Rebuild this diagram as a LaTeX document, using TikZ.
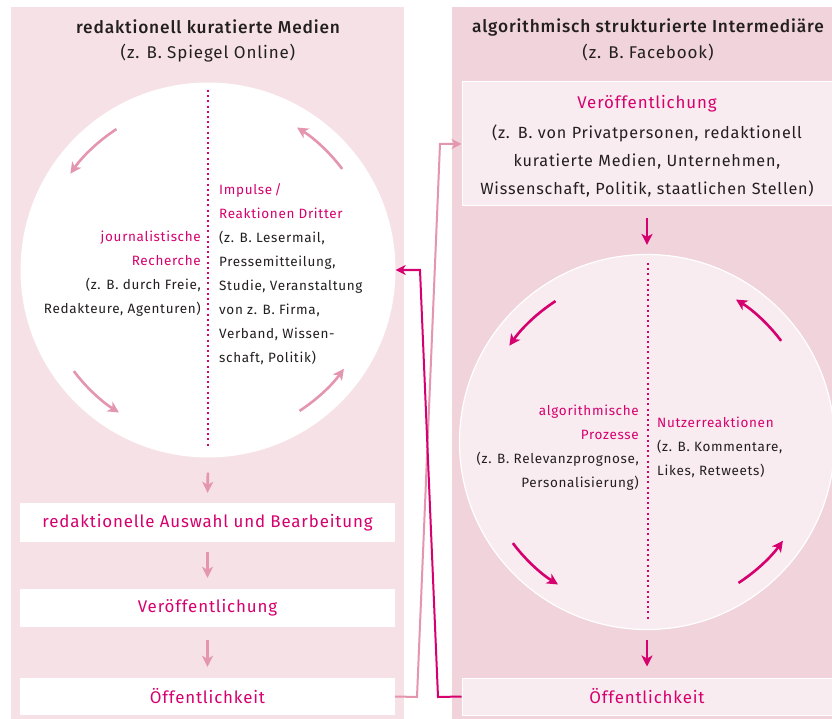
\documentclass[tikz,border=0pt]{standalone}
\usepackage{fontspec}
\setmainfont{Fira Sans}[LetterSpace=5]
\newfontfamily\fmed{Fira Sans Medium}[LetterSpace=5]
\usetikzlibrary{arrows.meta}
\definecolor{bgL}{RGB}{245,225,230}
\definecolor{bgR}{RGB}{240,211,219}
\definecolor{fillR}{RGB}{249,236,240}
\definecolor{mag}{RGB}{214,0,110}
\definecolor{pale}{RGB}{229,150,175}
\definecolor{txt}{RGB}{35,31,32}
\newcommand\fsA{\fontsize{17.3}{21}\selectfont}
\newcommand\fsS{\fontsize{17}{21}\selectfont}
\newcommand\fsT{\fontsize{16.9}{21}\selectfont}
\newcommand\fsB{\fontsize{16.2}{28}\selectfont}
\newcommand\fsC{\fontsize{13.5}{24}\selectfont}
\newcommand\hl[1]{{\color{mag}#1}}
\begin{document}
\begin{tikzpicture}[x=1pt,y=-1pt,
  panel/.style={rectangle, inner sep=0, minimum width=#1},
  lbox/.style={rectangle, fill=white, inner sep=0, minimum width=375, text=mag, font=\fsT},
  rbox/.style={rectangle, fill=fillR, draw=white, line width=1, inner sep=0, minimum width=370, text=mag, font=\fsT},
  htext/.style={text=txt, inner sep=0},
  ctext/.style={text=txt, font=\fsC, inner sep=0},
  dotline/.style={mag, line width=2.2, dash pattern=on 2pt off 3.2pt},
  parr/.style={pale, line width=2.6, -{Stealth[length=11pt,width=11pt,inset=3pt]}},
  marr/.style={mag, line width=2.6, -{Stealth[length=11pt,width=11pt,inset=3pt]}},
  pline/.style={pale, line width=2, -{Stealth[length=10pt,width=10pt,inset=3pt]}},
  mline/.style={mag, line width=2, -{Stealth[length=10pt,width=10pt,inset=3pt]}}
]
\useasboundingbox (0,0) rectangle (832,719);
\fill[white] (0,0) rectangle (832,719);
% panels
\node[panel=393, minimum height=712, fill=bgL] (pl) at (207.5,363) {};
\node[panel=380, minimum height=712, fill=bgR] (pr) at (642,363) {};
% headers
\node[htext, font=\fsA\fmed] (hl1) at (208,27) {redaktionell kuratierte Medien};
\node[htext, font=\fsS] (hl2) at (208,53) {(z. B. Spiegel Online)};
\node[htext, font=\fsA\fmed] (hr1) at (648,27) {algorithmisch strukturierte Intermediäre};
\node[htext, font=\fsS] (hr2) at (648,53) {(z. B. Facebook)};
% left circle
\node[circle, fill=white, inner sep=0, minimum size=375] (lc) at (208,270) {};
\draw[dotline] (208,90) -- (208,446);
\node[ctext, align=right, anchor=east] (lt) at (201,274)
  {\hl{journalistische}\\\hl{Recherche}\\(z. B. durch Freie,\\Redakteure, Agenturen)};
\node[ctext, align=left, anchor=west] (rt) at (219,274)
  {\hl{Impulse\,/}\\\hl{Reaktionen Dritter}\\(z. B. Lesermail,\\Pressemitteilung,\\Studie, Veranstaltung\\von z. B. Firma,\\Verband, Wissen-\\schaft, Politik)};
\draw[parr] ([shift={(237:168)}]lc.center) arc[start angle=237, end angle=215, radius=168];
\draw[parr] ([shift={(143:168)}]lc.center) arc[start angle=143, end angle=122, radius=168];
\draw[parr] ([shift={(57:168)}]lc.center) arc[start angle=57, end angle=36, radius=168];
\draw[parr] ([shift={(323:168)}]lc.center) arc[start angle=323, end angle=302, radius=168];
% left boxes
\node[lbox, minimum height=39] (lb1) at (207.5,522.5) {redaktionelle Auswahl und Bearbeitung};
\node[lbox, minimum height=38] (lb2) at (207.5,608) {Veröffentlichung};
\node[lbox, minimum height=37] (lb3) at (207.5,696.5) {Öffentlichkeit};
\draw[parr, shorten <=15, shorten >=10] (lc.south) -- (lb1.north);
\draw[parr, shorten <=10, shorten >=11] (lb1.south) -- (lb2.north);
\draw[parr, shorten <=13, shorten >=11] (lb2.south) -- (lb3.north);
% right top box
\node[rbox, minimum height=124] (rb1) at (647,144) {};
\node[inner sep=0, font=\fsB, text=txt, text width=366, align=center] (rb1t) at ([yshift=-2pt]rb1.center)
  {{\fsT\hl{Veröffentlichung}}\\[2pt](z. B. von Privatpersonen, redaktionell\\kuratierte Medien, Unternehmen,\\Wissenschaft, Politik, staatlichen Stellen)};
% right circle
\node[circle, fill=fillR, draw=white, line width=1.2, inner sep=0, minimum size=375] (rc) at (647,442) {};
\draw[dotline] (648,263) -- (648,620);
\node[ctext, align=right, anchor=east] (alt) at (639,448)
  {\hl{algorithmische}\\\hl{Prozesse}\\(z. B. Relevanzprognose,\\Personalisierung)};
\node[ctext, align=left, anchor=west] (nrt) at (657,447)
  {\hl{Nutzerreaktionen}\\(z. B. Kommentare,\\Likes, Retweets)};
\draw[marr] ([shift={(237:168)}]rc.center) arc[start angle=237, end angle=215, radius=168];
\draw[marr] ([shift={(143:168)}]rc.center) arc[start angle=143, end angle=122, radius=168];
\draw[marr] ([shift={(57:168)}]rc.center) arc[start angle=57, end angle=36, radius=168];
\draw[marr] ([shift={(323:168)}]rc.center) arc[start angle=323, end angle=302, radius=168];
% right bottom box
\node[rbox, minimum height=37] (rb2) at (647,696.5) {Öffentlichkeit};
\draw[marr, shorten <=12, shorten >=9] (rb1.south) -- (rc.north);
\draw[marr, shorten <=10, shorten >=11] (rc.south) -- (rb2.north);
% connectors
\coordinate (p1) at (417,697);
\coordinate (p2) at (440,144);
\coordinate (m1) at (438,697);
\coordinate (m2) at (420,270);
\draw[pline] (lb3.east) -- (p1) -- (p2) -- (rb1.west);
\draw[mline] (rb2.west) -- (m1) -- (m2) -- (lc.east);
\end{tikzpicture}
\end{document}
